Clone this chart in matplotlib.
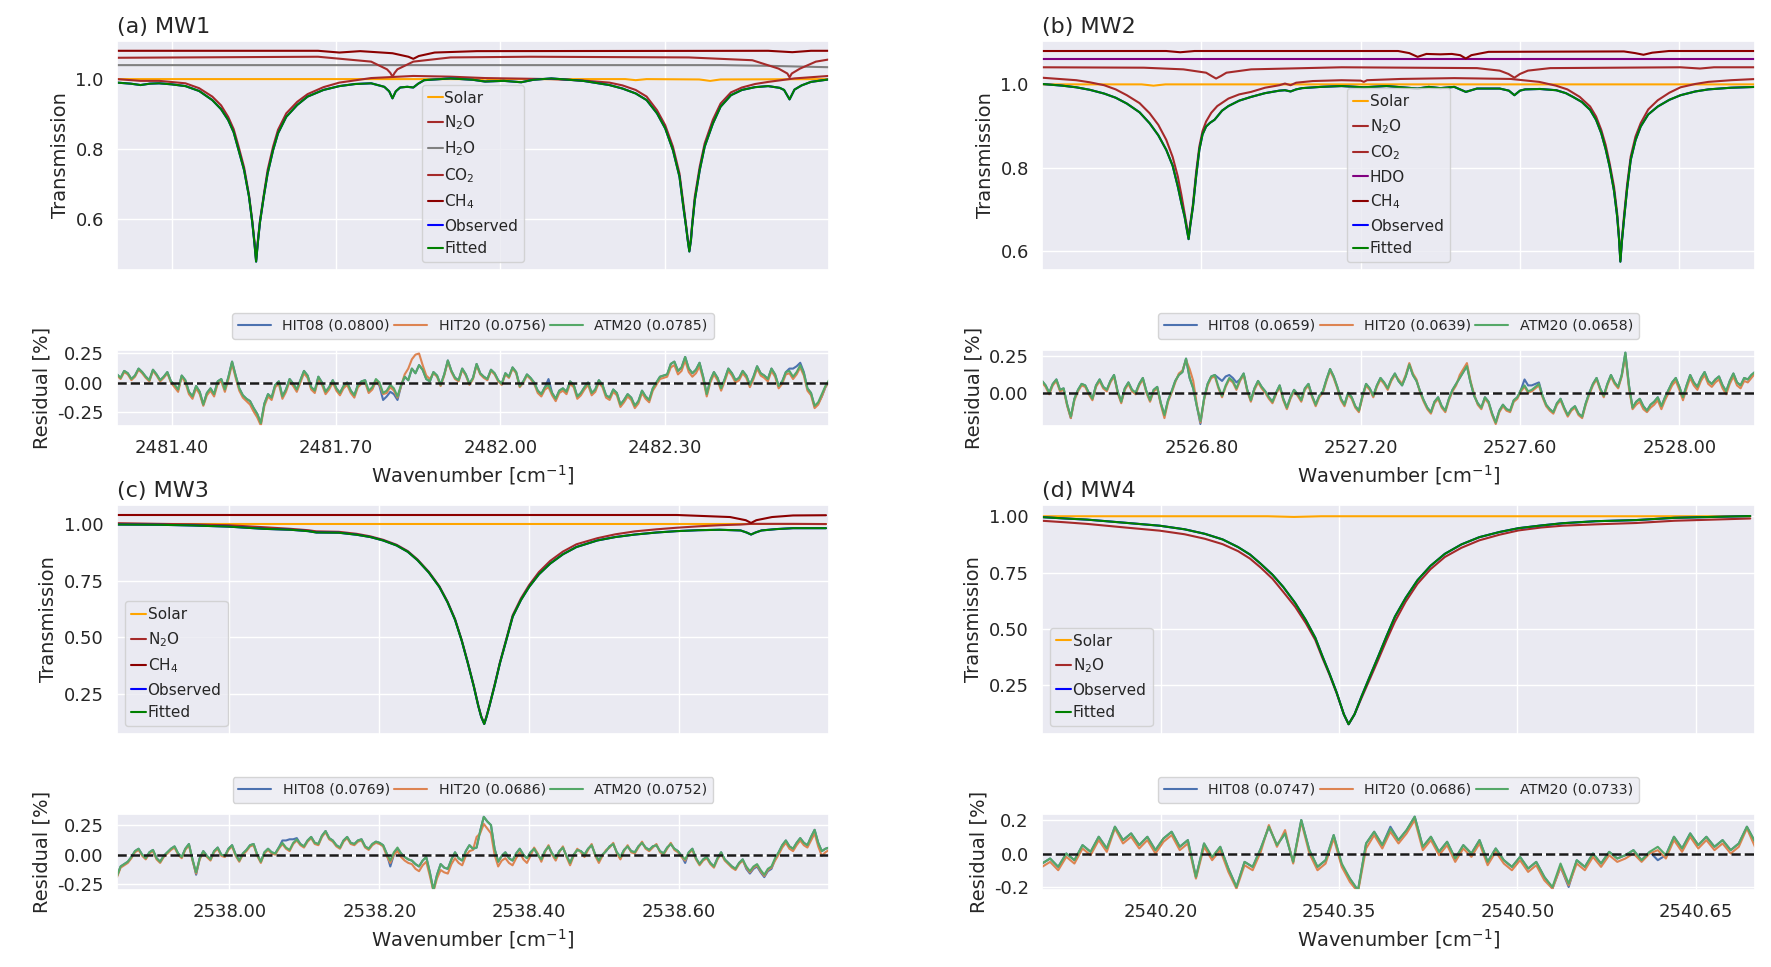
import numpy as np
import matplotlib
matplotlib.use("Agg")
import matplotlib.pyplot as plt
import seaborn as sns

sns.set_theme(style="darkgrid")
plt.rcParams["font.family"] = ["DejaVu Sans"]

# ---------------- MW1 ----------------
mw1_wn = [2481.300, 2481.325, 2481.343, 2481.360, 2481.377, 2481.400, 2481.425, 2481.450,
          2481.474, 2481.490, 2481.503, 2481.513, 2481.522, 2481.532, 2481.541, 2481.547,
          2481.551, 2481.554, 2481.557, 2481.561, 2481.568, 2481.575, 2481.585, 2481.594,
          2481.609, 2481.629, 2481.648, 2481.677, 2481.706, 2481.735, 2481.764, 2481.788,
          2481.797, 2481.803, 2481.809, 2481.817, 2481.830, 2481.841, 2481.850, 2481.861,
          2481.909, 2481.950, 2481.972, 2482.006, 2482.038, 2482.060, 2482.093, 2482.151,
          2482.199, 2482.223, 2482.247, 2482.267, 2482.286, 2482.301, 2482.315, 2482.327,
          2482.334, 2482.339, 2482.342, 2482.345, 2482.348, 2482.350, 2482.355, 2482.364,
          2482.373, 2482.388, 2482.402, 2482.421, 2482.441, 2482.465, 2482.489, 2482.510,
          2482.518, 2482.528, 2482.537, 2482.550, 2482.567, 2482.599]
mw1_fit = [0.990, 0.987, 0.983, 0.987, 0.988, 0.985, 0.980, 0.966,
           0.940, 0.914, 0.883, 0.848, 0.797, 0.740, 0.664, 0.590,
           0.530, 0.478, 0.530, 0.590, 0.664, 0.730, 0.797, 0.845,
           0.892, 0.926, 0.950, 0.969, 0.980, 0.986, 0.988, 0.978,
           0.965, 0.945, 0.965, 0.976, 0.978, 0.976, 0.987, 0.997,
           1.002, 0.998, 0.993, 0.995, 0.991, 0.998, 1.002, 0.995,
           0.983, 0.973, 0.959, 0.940, 0.902, 0.859, 0.797, 0.721,
           0.635, 0.578, 0.540, 0.507, 0.540, 0.578, 0.654, 0.740,
           0.807, 0.873, 0.921, 0.954, 0.969, 0.977, 0.980, 0.975,
           0.969, 0.942, 0.970, 0.982, 0.992, 0.999]
mw1_n2o_wn = [2481.300, 2481.343, 2481.377, 2481.425, 2481.450, 2481.474, 2481.490, 2481.503,
              2481.513, 2481.522, 2481.532, 2481.541, 2481.547, 2481.551, 2481.554, 2481.557,
              2481.561, 2481.568, 2481.575, 2481.585, 2481.594, 2481.609, 2481.629, 2481.648,
              2481.677, 2481.706, 2481.764, 2481.841, 2481.909, 2481.972, 2482.093, 2482.151,
              2482.199, 2482.223, 2482.247, 2482.267, 2482.286, 2482.301, 2482.315, 2482.327,
              2482.334, 2482.339, 2482.342, 2482.345, 2482.348, 2482.350, 2482.355, 2482.364,
              2482.373, 2482.388, 2482.402, 2482.421, 2482.441, 2482.465, 2482.489, 2482.537,
              2482.599]
mw1_n2o = [1.000, 0.995, 0.995, 0.988, 0.974, 0.950, 0.925, 0.892,
           0.857, 0.807, 0.748, 0.669, 0.595, 0.535, 0.483, 0.535,
           0.595, 0.669, 0.740, 0.807, 0.855, 0.902, 0.935, 0.957,
           0.977, 0.990, 1.003, 1.009, 1.007, 1.003, 1.000, 0.996,
           0.990, 0.982, 0.969, 0.950, 0.911, 0.868, 0.807, 0.730,
           0.645, 0.583, 0.545, 0.511, 0.545, 0.583, 0.664, 0.750,
           0.816, 0.884, 0.930, 0.962, 0.976, 0.986, 0.992, 1.002,
           1.009]
mw1_solar_wn = [2481.300, 2481.957, 2481.972, 2481.986, 2482.228, 2482.247, 2482.267,
                2482.363, 2482.383, 2482.402, 2482.599]
mw1_solar = [1.000, 1.000, 0.996, 1.000, 1.000, 0.997, 1.000, 0.999, 0.995, 0.999, 1.000]
mw1_h2o_wn = [2481.300, 2482.402, 2482.489, 2482.599]
mw1_h2o = [1.040, 1.040, 1.038, 1.034]
mw1_co2_wn = [2481.300, 2481.667, 2481.764, 2481.793, 2481.799, 2481.803, 2481.807, 2481.812,
              2481.841, 2481.909, 2482.054, 2482.344, 2482.460, 2482.508, 2482.524, 2482.528,
              2482.532, 2482.547, 2482.576, 2482.599]
mw1_co2 = [1.061, 1.064, 1.050, 1.028, 1.018, 1.007, 1.018, 1.028,
           1.050, 1.062, 1.064, 1.062, 1.054, 1.030, 1.016, 1.005,
           1.016, 1.030, 1.050, 1.056]
mw1_ch4_wn = [2481.300, 2481.667, 2481.706, 2481.744, 2481.803, 2481.832, 2481.841, 2481.851,
              2481.880, 2481.957, 2482.489, 2482.533, 2482.567, 2482.599]
mw1_ch4 = [1.081, 1.081, 1.076, 1.080, 1.074, 1.064, 1.058, 1.066,
           1.076, 1.080, 1.081, 1.077, 1.081, 1.081]

mw1_res_range = (2481.30, 2482.60)
mw1_atm20 = [0.07, 0.04, 0.10, 0.08, 0.03, 0.06, 0.12, 0.09, 0.05, 0.02, 0.11, 0.07, 0.02, 0.05, 0.09, 0.01,
             -0.02, -0.06, 0.06, 0.02, -0.08, -0.12, -0.03, -0.08, -0.19, -0.09, -0.05, -0.10, 0.01, 0.03, -0.06, 0.05,
             0.18, 0.06,
             -0.05, -0.11, -0.14, -0.16, -0.22, -0.27, -0.35, -0.18,
             -0.10, -0.13, -0.02, 0.01, -0.12, -0.06, 0.03, -0.01, -0.06, 0.02, 0.10, 0.06, -0.04, -0.07, 0.05, 0.00, -0.08, -0.04, 0.02, -0.05,
             -0.09, -0.03, 0.00, -0.07, -0.11, -0.02, 0.01, 0.02, -0.07, -0.04, 0.03, 0.00, -0.09, -0.07, -0.02, -0.05, -0.12, -0.02,
             0.05, 0.02, 0.12, 0.08, 0.15, 0.11, 0.03, 0.01,
             0.09, 0.06, -0.02, 0.07, 0.19, 0.10, 0.04, 0.02, 0.12, 0.07, -0.01, 0.04, 0.16, 0.08, 0.05, 0.03, 0.11, 0.08, 0.02, -0.01,
             0.08, 0.05, 0.13, 0.09, -0.03, 0.01, 0.07, 0.04, 0.00, -0.07,
             -0.10, -0.04, -0.02, -0.09, -0.14, -0.07, -0.05, -0.08, 0.01, -0.02, -0.12, -0.09, -0.04, 0.00, -0.09, -0.06, 0.02, -0.02, -0.11, -0.13, -0.06, -0.09,
             -0.19, -0.15, -0.10, -0.13, -0.20, -0.16, -0.07, -0.12, -0.15, -0.05,
             0.00, 0.05, 0.06, 0.07, 0.16, 0.18,
             0.10, 0.13, 0.22, 0.12, 0.08, 0.11, 0.17, 0.05, -0.10, 0.02,
             0.09, 0.04, -0.05, 0.03, 0.12, 0.08, 0.02, 0.04, 0.10, 0.06, -0.02, 0.05, 0.14, 0.08, 0.06, 0.03, 0.12, 0.07, -0.03, 0.01, 0.09, 0.10, 0.05, 0.09,
             0.15, 0.08, -0.05, -0.09, -0.20, -0.17, -0.10, -0.03, 0.02]
mw1_hit20 = [0.06, 0.03, 0.09, 0.07, 0.02, 0.05, 0.11, 0.08, 0.04, 0.01, 0.10, 0.06, 0.01, 0.04, 0.08, 0.00,
             -0.04, -0.08, 0.05, 0.00, -0.10, -0.14, -0.05, -0.10, -0.20, -0.11, -0.07, -0.12, -0.01, 0.01, -0.08, 0.03,
             0.16, 0.04,
             -0.07, -0.13, -0.16, -0.19, -0.25, -0.30, -0.37, -0.20,
             -0.12, -0.15, -0.04, -0.01, -0.14, -0.08, 0.01, -0.03, -0.08, 0.00, 0.08, 0.04, -0.06, -0.09, 0.03, -0.02, -0.10, -0.06, 0.00, -0.07,
             -0.11, -0.05, -0.02, -0.09, -0.13, -0.04, -0.01, 0.00, -0.09, -0.06, 0.01, -0.02, -0.10, -0.09, -0.04, -0.07, -0.13, -0.03,
             0.07, 0.12, 0.20, 0.24, 0.25, 0.15, 0.06, 0.03,
             0.08, 0.05, -0.03, 0.06, 0.18, 0.09, 0.03, 0.01, 0.11, 0.06, -0.02, 0.03, 0.15, 0.07, 0.04, 0.02, 0.10, 0.07, 0.01, -0.02,
             0.07, 0.04, 0.12, 0.08, -0.04, 0.00, 0.06, 0.03, -0.01, -0.09,
             -0.12, -0.06, -0.04, -0.11, -0.16, -0.09, -0.07, -0.10, -0.01, -0.04, -0.14, -0.11, -0.06, -0.02, -0.11, -0.08, 0.00, -0.04, -0.13, -0.15, -0.08, -0.11,
             -0.21, -0.17, -0.12, -0.15, -0.22, -0.18, -0.09, -0.14, -0.17, -0.07,
             -0.02, 0.03, 0.04, 0.05, 0.13, 0.15,
             0.07, 0.10, 0.19, 0.09, 0.05, 0.08, 0.14, 0.03, -0.12, 0.00,
             0.07, 0.02, -0.07, 0.01, 0.10, 0.06, 0.00, 0.02, 0.08, 0.04, -0.04, 0.03, 0.12, 0.06, 0.04, 0.01, 0.10, 0.05, -0.05, -0.01, 0.07, 0.08, 0.03, 0.07,
             0.13, 0.06, -0.07, -0.11, -0.22, -0.19, -0.12, -0.04, 0.01]
mw1_hit08 = [0.07, 0.04, 0.10, 0.08, 0.03, 0.06, 0.12, 0.09, 0.05, 0.02, 0.11, 0.07, 0.02, 0.05, 0.09, 0.01,
             -0.02, -0.06, 0.06, 0.02, -0.08, -0.12, -0.03, -0.08, -0.19, -0.09, -0.05, -0.10, 0.01, 0.03, -0.06, 0.05,
             0.18, 0.06,
             -0.05, -0.11, -0.14, -0.16, -0.22, -0.27, -0.35, -0.18,
             -0.10, -0.13, -0.02, 0.01, -0.12, -0.06, 0.03, -0.01, -0.06, 0.02, 0.10, 0.06, -0.04, -0.07, 0.05, 0.00, -0.08, -0.04, 0.02, -0.05,
             -0.09, -0.03, 0.00, -0.07, -0.11, -0.02, 0.01, 0.02, -0.08, -0.05, 0.02, -0.03, -0.15, -0.12, -0.08, -0.10, -0.15, -0.03,
             0.05, 0.02, 0.12, 0.08, 0.15, 0.11, 0.03, 0.01,
             0.09, 0.06, -0.02, 0.07, 0.19, 0.10, 0.04, 0.02, 0.12, 0.07, -0.01, 0.04, 0.16, 0.08, 0.05, 0.03, 0.11, 0.08, 0.02, -0.01,
             0.08, 0.05, 0.13, 0.09, -0.03, 0.01, 0.07, 0.04, 0.00, -0.07,
             -0.10, -0.04, 0.03, -0.09, -0.14, -0.07, -0.05, -0.08, 0.01, -0.02, -0.12, -0.09, -0.04, 0.00, -0.09, -0.06, 0.02, -0.02, -0.11, -0.13, -0.06, -0.09,
             -0.19, -0.15, -0.10, -0.13, -0.20, -0.16, -0.07, -0.12, -0.15, -0.05,
             0.00, 0.05, 0.06, 0.07, 0.16, 0.18,
             0.10, 0.13, 0.22, 0.12, 0.08, 0.11, 0.17, 0.05, -0.10, 0.02,
             0.09, 0.04, -0.05, 0.03, 0.12, 0.08, 0.02, 0.04, 0.10, 0.06, -0.02, 0.05, 0.14, 0.08, 0.06, 0.03, 0.12, 0.07, -0.03, 0.01, 0.09, 0.12, 0.12, 0.14,
             0.17, 0.09, -0.05, -0.09, -0.21, -0.18, -0.12, -0.04, 0.01]

# ---------------- MW2 ----------------
mw2_wn = [2526.400, 2526.450, 2526.486, 2526.520, 2526.556, 2526.585, 2526.613, 2526.645,
          2526.670, 2526.692, 2526.712, 2526.728, 2526.741, 2526.750, 2526.758, 2526.764,
          2526.768, 2526.772, 2526.779, 2526.787, 2526.795, 2526.803, 2526.812, 2526.822,
          2526.833, 2526.840, 2526.852, 2526.868, 2526.895, 2526.925, 2526.960, 2526.996,
          2527.010, 2527.024, 2527.038, 2527.053, 2527.100, 2527.152, 2527.208, 2527.265,
          2527.343, 2527.371, 2527.400, 2527.435, 2527.464, 2527.492, 2527.549, 2527.572,
          2527.586, 2527.600, 2527.613, 2527.650, 2527.691, 2527.715, 2527.733, 2527.755,
          2527.776, 2527.791, 2527.804, 2527.815, 2527.825, 2527.836, 2527.844, 2527.849,
          2527.852, 2527.856, 2527.861, 2527.869, 2527.878, 2527.890, 2527.903, 2527.922,
          2527.946, 2527.975, 2528.003, 2528.040, 2528.073, 2528.130, 2528.194]
mw2_fit = [1.001, 0.997, 0.993, 0.987, 0.978, 0.968, 0.954, 0.933,
           0.907, 0.878, 0.843, 0.805, 0.755, 0.715, 0.683, 0.650,
           0.629, 0.660, 0.707, 0.780, 0.843, 0.880, 0.899, 0.908,
           0.915, 0.923, 0.937, 0.948, 0.961, 0.970, 0.979, 0.985,
           0.986, 0.983, 0.988, 0.991, 0.994, 0.996, 0.993, 0.996,
           0.990, 0.994, 0.991, 0.994, 0.982, 0.990, 0.990, 0.985,
           0.974, 0.985, 0.988, 0.989, 0.986, 0.979, 0.970, 0.958,
           0.939, 0.915, 0.883, 0.845, 0.803, 0.745, 0.683, 0.625,
           0.575, 0.625, 0.675, 0.750, 0.819, 0.866, 0.899, 0.928,
           0.947, 0.963, 0.974, 0.983, 0.988, 0.992, 0.994]
mw2_n2o_wn = [2526.400, 2526.486, 2526.520, 2526.556, 2526.585, 2526.613, 2526.645, 2526.670,
              2526.692, 2526.712, 2526.728, 2526.741, 2526.750, 2526.758, 2526.764, 2526.768,
              2526.772, 2526.779, 2526.787, 2526.795, 2526.803, 2526.812, 2526.825, 2526.840,
              2526.868, 2526.895, 2526.925, 2526.960, 2526.996, 2527.010, 2527.024, 2527.038,
              2527.080, 2527.152, 2527.200, 2527.208, 2527.216, 2527.300, 2527.435, 2527.577,
              2527.648, 2527.690, 2527.719, 2527.750, 2527.776, 2527.791, 2527.804, 2527.815,
              2527.825, 2527.836, 2527.844, 2527.849, 2527.852, 2527.856, 2527.861, 2527.869,
              2527.878, 2527.890, 2527.903, 2527.922, 2527.946, 2527.975, 2528.003, 2528.040,
              2528.073, 2528.130, 2528.194]
mw2_n2o = [1.016, 1.010, 1.005, 0.998, 0.988, 0.974, 0.955, 0.931,
           0.903, 0.867, 0.826, 0.779, 0.735, 0.691, 0.658, 0.634,
           0.665, 0.713, 0.790, 0.851, 0.888, 0.911, 0.932, 0.948,
           0.966, 0.976, 0.982, 0.992, 0.998, 1.002, 0.998, 1.004,
           1.008, 1.010, 1.009, 1.006, 1.010, 1.013, 1.015, 1.013,
           1.006, 0.997, 0.988, 0.970, 0.947, 0.923, 0.891, 0.855,
           0.811, 0.755, 0.691, 0.630, 0.579, 0.630, 0.683, 0.760,
           0.827, 0.875, 0.907, 0.940, 0.962, 0.980, 0.993, 1.001,
           1.006, 1.010, 1.013]
mw2_solar_wn = [2526.400, 2526.650, 2526.680, 2526.710, 2528.194]
mw2_solar = [1.000, 1.000, 0.997, 1.000, 1.000]
mw2_co2_wn = [2526.400, 2526.656, 2526.755, 2526.812, 2526.826, 2526.837, 2526.849, 2526.863,
              2526.925, 2527.152, 2527.492, 2527.549, 2527.571, 2527.586, 2527.600, 2527.620,
              2527.676, 2528.003, 2528.052, 2528.087, 2528.194]
mw2_co2 = [1.041, 1.040, 1.036, 1.028, 1.020, 1.014, 1.020, 1.028,
           1.036, 1.041, 1.039, 1.033, 1.025, 1.016, 1.025, 1.033,
           1.039, 1.041, 1.038, 1.041, 1.041]
mw2_hdo_wn = [2526.400, 2528.194]
mw2_hdo = [1.061, 1.061]
mw2_ch4_wn = [2526.400, 2526.712, 2526.747, 2526.783, 2527.294, 2527.322, 2527.343, 2527.365,
              2527.400, 2527.429, 2527.450, 2527.464, 2527.478, 2527.521, 2527.861, 2527.889,
              2527.910, 2527.932, 2527.974, 2528.194]
mw2_ch4 = [1.080, 1.080, 1.077, 1.080, 1.080, 1.075, 1.066, 1.073,
           1.072, 1.073, 1.070, 1.062, 1.070, 1.078, 1.079, 1.075,
           1.071, 1.076, 1.080, 1.080]

mw2_res_range = (2526.40, 2528.19)
mw2_atm20 = [0.08, 0.05, 0.00, 0.06, 0.09, 0.02, 0.03, -0.08, -0.16, -0.04, 0.02, 0.06, 0.05, 0.00, -0.04, 0.05,
             0.09, 0.04, 0.02, 0.08, 0.12, 0.01, -0.06, 0.03, 0.07, 0.02, 0.00, 0.06, 0.10, 0.01, -0.05, 0.02,
             0.04, -0.07, -0.15, -0.05, 0.01, 0.08, 0.12, 0.14, 0.23, 0.10, 0.03, -0.09, -0.19, -0.04,
             0.06, 0.11, 0.12, 0.04, -0.02, 0.05, 0.10, 0.08, 0.03, 0.09, 0.13, 0.02, -0.05, 0.03, 0.08, 0.04, 0.01, -0.03,
             -0.06, 0.00, 0.05, -0.04, -0.10, -0.03, 0.02, -0.01, -0.05, 0.03, 0.06, -0.02, -0.08, -0.02, 0.01, 0.09,
             0.16, 0.11, 0.04, -0.04, -0.08, 0.00, -0.03, -0.09, -0.12, -0.02,
             0.06, 0.03, -0.02, 0.05, 0.10, 0.07, 0.03, 0.09, 0.13, 0.08, 0.05, 0.11, 0.19, 0.12, 0.08, 0.01,
             -0.05, -0.10, -0.13, -0.06, -0.03, -0.09, -0.12, -0.04, 0.02, 0.06,
             0.10, 0.14, 0.18, 0.07,
             -0.02, -0.07, -0.10, -0.03, -0.06, -0.14, -0.20, -0.12, -0.08, -0.11, -0.12, -0.05, -0.03, 0.02,
             0.05, 0.01, 0.02, 0.04, 0.06, -0.02,
             -0.08, -0.11, -0.13, -0.07, -0.04, -0.10, -0.15, -0.11, -0.09, -0.14, -0.16, -0.07,
             0.00, 0.06, 0.10, 0.03, -0.02, 0.06, 0.12, 0.07, 0.04, 0.12,
             0.27, 0.05,
             -0.10, -0.06, -0.04, -0.09, -0.12, -0.08, -0.06, -0.03, -0.09, -0.03,
             0.02, 0.07, 0.10, 0.04, -0.03, 0.05, 0.12, 0.07, 0.04, 0.10, 0.14, 0.08, 0.06, 0.09, 0.11, 0.05,
             0.01, 0.08, 0.13, 0.07, 0.05, 0.10, 0.09, 0.12, 0.14]
mw2_hit20 = [0.07, 0.04, -0.01, 0.05, 0.08, 0.01, 0.02, -0.09, -0.17, -0.05, 0.01, 0.05, 0.04, -0.01, -0.05, 0.04,
             0.08, 0.03, 0.01, 0.07, 0.11, 0.00, -0.07, 0.02, 0.06, 0.01, -0.01, 0.05, 0.09, 0.00, -0.06, 0.01,
             0.03, -0.08, -0.17, -0.06, 0.00, 0.07, 0.13, 0.15, 0.22, 0.16, 0.08, -0.08, -0.20, -0.05,
             0.05, 0.10, 0.11, 0.03, -0.03, 0.04, 0.09, 0.07, 0.02, 0.08, 0.12, 0.01, -0.06, 0.02, 0.07, 0.03, 0.00, -0.04,
             -0.07, -0.01, 0.04, -0.05, -0.11, -0.04, 0.01, -0.02, -0.06, 0.02, 0.05, -0.03, -0.09, -0.03, 0.00, 0.08,
             0.15, 0.10, 0.03, -0.05, -0.09, -0.01, -0.04, -0.10, -0.13, -0.03,
             0.05, 0.02, -0.03, 0.04, 0.09, 0.06, 0.02, 0.08, 0.12, 0.09, 0.06, 0.12, 0.20, 0.13, 0.09, 0.00,
             -0.06, -0.11, -0.14, -0.07, -0.04, -0.10, -0.13, -0.05, 0.01, 0.05,
             0.12, 0.16, 0.20, 0.08,
             -0.01, -0.08, -0.11, -0.04, -0.07, -0.15, -0.21, -0.13, -0.09, -0.12, -0.13, -0.06, -0.04, 0.01,
             0.04, 0.00, 0.01, 0.03, 0.05, -0.03,
             -0.09, -0.12, -0.14, -0.08, -0.05, -0.11, -0.16, -0.12, -0.10, -0.15, -0.17, -0.08,
             -0.01, 0.05, 0.09, 0.02, -0.03, 0.05, 0.11, 0.06, 0.03, 0.11,
             0.25, 0.03,
             -0.11, -0.08, -0.06, -0.11, -0.13, -0.10, -0.08, -0.05, -0.11, -0.05,
             0.00, 0.05, 0.08, 0.02, -0.05, 0.03, 0.10, 0.05, 0.02, 0.08, 0.12, 0.06, 0.04, 0.07, 0.09, 0.03,
             -0.01, 0.06, 0.11, 0.05, 0.03, 0.08, 0.07, 0.10, 0.13]
mw2_hit08 = [0.08, 0.05, 0.00, 0.06, 0.09, 0.02, 0.03, -0.08, -0.17, -0.04, 0.02, 0.06, 0.05, 0.00, -0.04, 0.05,
             0.09, 0.04, 0.02, 0.08, 0.12, 0.01, -0.06, 0.03, 0.07, 0.02, 0.00, 0.06, 0.10, 0.01, -0.05, 0.02,
             0.04, -0.07, -0.15, -0.05, 0.01, 0.08, 0.12, 0.14, 0.23, 0.10, 0.03, -0.09, -0.21, -0.04,
             0.06, 0.11, 0.12, 0.10, 0.08, 0.11, 0.12, 0.10, 0.07, 0.09, 0.13, 0.02, -0.05, 0.03, 0.08, 0.04, 0.01, -0.03,
             -0.06, 0.00, 0.05, -0.04, -0.10, -0.03, 0.02, -0.01, -0.05, 0.03, 0.06, -0.02, -0.08, -0.02, 0.01, 0.09,
             0.16, 0.11, 0.04, -0.04, -0.08, 0.00, -0.03, -0.09, -0.12, -0.02,
             0.06, 0.03, -0.02, 0.05, 0.10, 0.07, 0.03, 0.09, 0.13, 0.08, 0.05, 0.11, 0.19, 0.12, 0.08, 0.01,
             -0.05, -0.10, -0.13, -0.06, -0.03, -0.09, -0.12, -0.04, 0.02, 0.06,
             0.10, 0.14, 0.18, 0.07,
             -0.02, -0.07, -0.10, -0.03, -0.06, -0.14, -0.20, -0.12, -0.08, -0.11, -0.12, -0.05, -0.03, 0.02,
             0.09, 0.05, 0.05, 0.06, 0.07, -0.02,
             -0.08, -0.11, -0.13, -0.07, -0.04, -0.10, -0.15, -0.11, -0.09, -0.14, -0.16, -0.07,
             0.00, 0.06, 0.10, 0.03, -0.02, 0.06, 0.12, 0.07, 0.04, 0.12,
             0.27, 0.05,
             -0.10, -0.06, -0.04, -0.09, -0.12, -0.08, -0.06, -0.03, -0.09, -0.03,
             0.02, 0.07, 0.10, 0.04, -0.03, 0.05, 0.12, 0.07, 0.04, 0.10, 0.14, 0.08, 0.06, 0.09, 0.11, 0.05,
             0.01, 0.08, 0.13, 0.07, 0.05, 0.10, 0.09, 0.12, 0.14]

# ---------------- MW3 ----------------
mw3_wn = [2537.850, 2537.906, 2537.950, 2537.998, 2538.047, 2538.082, 2538.105, 2538.116,
          2538.146, 2538.170, 2538.188, 2538.205, 2538.223, 2538.238, 2538.251, 2538.266,
          2538.280, 2538.291, 2538.301, 2538.310, 2538.318, 2538.326, 2538.332, 2538.336,
          2538.340, 2538.343, 2538.347, 2538.354, 2538.361, 2538.370, 2538.378, 2538.389,
          2538.400, 2538.413, 2538.428, 2538.445, 2538.463, 2538.491, 2538.515, 2538.541,
          2538.570, 2538.597, 2538.625, 2538.654, 2538.682, 2538.690, 2538.696, 2538.702,
          2538.710, 2538.730, 2538.752, 2538.796]
mw3_fit = [0.997, 0.996, 0.993, 0.988, 0.978, 0.974, 0.968, 0.962,
           0.961, 0.952, 0.942, 0.927, 0.905, 0.877, 0.840, 0.786,
           0.723, 0.655, 0.578, 0.485, 0.388, 0.285, 0.199, 0.150,
           0.119, 0.150, 0.199, 0.290, 0.388, 0.495, 0.592, 0.665,
           0.723, 0.778, 0.825, 0.866, 0.898, 0.927, 0.942, 0.953,
           0.962, 0.968, 0.972, 0.974, 0.971, 0.962, 0.953, 0.962,
           0.971, 0.977, 0.981, 0.981]
mw3_n2o_wn = [2537.850, 2537.906, 2537.950, 2537.998, 2538.047, 2538.082, 2538.105, 2538.116,
              2538.146, 2538.170, 2538.188, 2538.205, 2538.223, 2538.238, 2538.251, 2538.266,
              2538.280, 2538.291, 2538.301, 2538.310, 2538.318, 2538.326, 2538.332, 2538.336,
              2538.340, 2538.343, 2538.347, 2538.354, 2538.361, 2538.370, 2538.378, 2538.389,
              2538.400, 2538.413, 2538.428, 2538.445, 2538.463, 2538.491, 2538.515, 2538.541,
              2538.570, 2538.597, 2538.625, 2538.654, 2538.682, 2538.696, 2538.752, 2538.796]
mw3_n2o = [1.003, 1.000, 0.998, 0.994, 0.985, 0.978, 0.972, 0.967,
           0.965, 0.956, 0.945, 0.930, 0.908, 0.880, 0.843, 0.789,
           0.726, 0.658, 0.581, 0.488, 0.391, 0.288, 0.202, 0.153,
           0.122, 0.153, 0.202, 0.294, 0.391, 0.500, 0.598, 0.672,
           0.731, 0.788, 0.837, 0.878, 0.910, 0.937, 0.954, 0.967,
           0.976, 0.983, 0.989, 0.994, 0.997, 1.000, 1.000, 0.999]
mw3_solar_wn = [2537.850, 2538.796]
mw3_solar = [1.000, 1.000]
mw3_ch4_wn = [2537.850, 2538.597, 2538.668, 2538.689, 2538.696, 2538.703, 2538.724, 2538.752,
              2538.796]
mw3_ch4 = [1.039, 1.039, 1.030, 1.016, 1.004, 1.016, 1.030, 1.037, 1.038]

mw3_res_range = (2537.85, 2538.80)
mw3_atm20 = [-0.18, -0.10, -0.08, -0.06, -0.02, 0.03, 0.05, 0.00, -0.03, 0.02, 0.04, -0.03, -0.06, -0.01, 0.02, 0.05,
             0.07, 0.01, -0.02, 0.05, 0.09, -0.04, -0.15, -0.03, 0.03, -0.01, -0.04, 0.03, 0.06, 0.00, -0.01, 0.05,
             0.08, 0.00, -0.05, 0.01, 0.04, 0.08, 0.09, 0.00, -0.06, 0.02, 0.05, 0.02, 0.01, 0.06,
             0.10, 0.06, 0.04, 0.10, 0.13, 0.09, 0.07, 0.12, 0.15, 0.10, 0.09, 0.16, 0.20, 0.14, 0.12, 0.08,
             0.06, 0.12, 0.15, 0.10, 0.09, 0.12, 0.13, 0.07, 0.05, 0.09, 0.11, 0.10, 0.08, 0.01,
             -0.05, 0.02, 0.06, 0.01, -0.02, -0.04,
             -0.05, -0.08, -0.10, -0.05, -0.02, -0.15, -0.30, -0.17, -0.08, -0.11, -0.12, -0.04,
             0.02, -0.03, -0.05, 0.03, 0.08, 0.05, 0.06, 0.20,
             0.32, 0.28, 0.25, 0.05,
             -0.06, -0.01, 0.02, -0.03, -0.05, 0.01, 0.05, 0.00, -0.03, 0.02,
             0.05, 0.00, -0.04, 0.03, 0.07, 0.01, -0.03, 0.03, 0.06, -0.01, -0.07, 0.00, 0.04, 0.03, 0.00, 0.05,
             0.08, 0.00, -0.05, 0.00, 0.03, 0.07, 0.09, 0.02, -0.02, 0.04, 0.07, 0.03, 0.02, 0.07, 0.10, 0.06,
             0.04, 0.07, 0.08, 0.03, 0.01, 0.06, 0.09, 0.05, 0.03, -0.01,
             -0.04, 0.02, 0.05, -0.03, -0.08, -0.04, -0.02, -0.07, -0.10, -0.03, 0.02, -0.04, -0.07, -0.10,
             -0.12, -0.07, -0.04, -0.10, -0.14, -0.10, -0.08, -0.13, -0.17, -0.12, -0.10, -0.03,
             0.02, 0.08, 0.12, 0.07, 0.05, 0.10, 0.14, 0.10, 0.08, 0.15, 0.21, 0.10, 0.03, 0.05, 0.06]
mw3_hit20 = [-0.19, -0.11, -0.09, -0.07, -0.03, 0.02, 0.04, -0.01, -0.04, 0.01, 0.03, -0.04, -0.07, -0.02, 0.01, 0.04,
             0.06, 0.00, -0.03, 0.04, 0.08, -0.05, -0.16, -0.04, 0.02, -0.02, -0.05, 0.02, 0.05, -0.01, -0.02, 0.04,
             0.07, -0.01, -0.06, 0.00, 0.03, 0.07, 0.08, -0.01, -0.07, 0.01, 0.04, 0.01, 0.00, 0.05,
             0.09, 0.05, 0.03, 0.09, 0.12, 0.08, 0.06, 0.11, 0.14, 0.09, 0.08, 0.15, 0.19, 0.13, 0.11, 0.07,
             0.05, 0.11, 0.14, 0.09, 0.08, 0.11, 0.12, 0.06, 0.04, 0.08, 0.10, 0.09, 0.07, -0.01,
             -0.07, 0.00, 0.03, -0.02, -0.05, -0.07,
             -0.08, -0.12, -0.14, -0.09, -0.06, -0.18, -0.31, -0.20, -0.13, -0.15, -0.16, -0.08,
             -0.03, -0.07, -0.09, -0.01, 0.03, 0.04, 0.15, 0.18,
             0.26, 0.22, 0.18, 0.00,
             -0.10, -0.05, -0.03, -0.07, -0.09, -0.03, 0.02, -0.04, -0.07, -0.01,
             0.06, 0.01, -0.06, 0.02, 0.08, 0.00, -0.05, 0.02, 0.07, -0.02, -0.09, -0.01, 0.05, 0.02, -0.02, 0.04,
             0.09, -0.01, -0.07, -0.01, 0.04, 0.06, 0.10, 0.01, -0.04, 0.03, 0.08, 0.02, 0.01, 0.06, 0.11, 0.05,
             0.03, 0.06, 0.09, 0.02, 0.00, 0.05, 0.10, 0.04, 0.02, -0.02,
             -0.05, 0.01, 0.04, -0.04, -0.09, -0.05, -0.03, -0.08, -0.11, -0.04, 0.01, -0.05, -0.08, -0.11,
             -0.13, -0.08, -0.05, -0.11, -0.15, -0.11, -0.09, -0.14, -0.18, -0.13, -0.11, -0.05,
             0.00, 0.06, 0.10, 0.05, 0.03, 0.08, 0.12, 0.08, 0.06, 0.12, 0.18, 0.07, -0.01, 0.02, 0.04]
mw3_hit08 = [-0.18, -0.10, -0.08, -0.06, -0.02, 0.03, 0.05, 0.00, -0.03, 0.02, 0.04, -0.03, -0.06, -0.01, 0.02, 0.05,
             0.07, 0.01, -0.02, 0.05, 0.09, -0.04, -0.17, -0.03, 0.03, -0.01, -0.04, 0.03, 0.06, 0.00, -0.01, 0.05,
             0.08, 0.00, -0.05, 0.01, 0.04, 0.08, 0.09, 0.00, -0.06, 0.02, 0.05, 0.02, 0.01, 0.06,
             0.12, 0.12, 0.13, 0.13, 0.14, 0.09, 0.07, 0.12, 0.15, 0.10, 0.09, 0.16, 0.20, 0.14, 0.12, 0.08,
             0.06, 0.12, 0.15, 0.10, 0.09, 0.12, 0.13, 0.07, 0.05, 0.09, 0.11, 0.10, 0.08, 0.01,
             -0.10, 0.00, 0.05, 0.01, -0.02, -0.04,
             -0.05, -0.08, -0.10, -0.05, -0.02, -0.15, -0.30, -0.17, -0.08, -0.11, -0.12, -0.04,
             0.02, -0.03, -0.05, 0.03, 0.08, 0.05, 0.06, 0.20,
             0.32, 0.28, 0.25, 0.05,
             -0.06, -0.01, 0.02, -0.03, -0.05, 0.01, 0.05, 0.00, -0.03, 0.02,
             0.05, 0.00, -0.04, 0.03, 0.07, 0.01, -0.03, 0.03, 0.06, -0.01, -0.07, 0.00, 0.04, 0.03, 0.00, 0.05,
             0.08, 0.00, -0.05, 0.00, 0.03, 0.07, 0.09, 0.02, -0.02, 0.04, 0.07, 0.03, 0.02, 0.07, 0.10, 0.06,
             0.04, 0.07, 0.08, 0.03, 0.01, 0.06, 0.09, 0.05, 0.03, -0.01,
             -0.07, 0.02, 0.05, -0.03, -0.08, -0.04, -0.02, -0.07, -0.10, -0.03, 0.02, -0.04, -0.07, -0.10,
             -0.12, -0.07, -0.04, -0.12, -0.16, -0.12, -0.10, -0.15, -0.19, -0.14, -0.12, -0.04,
             0.02, 0.08, 0.12, 0.07, 0.05, 0.10, 0.14, 0.10, 0.08, 0.15, 0.21, 0.10, 0.03, 0.05, 0.06]

# ---------------- MW4 ----------------
mw4_wn = [2540.100, 2540.120, 2540.138, 2540.170, 2540.199, 2540.220, 2540.237, 2540.252,
          2540.265, 2540.275, 2540.284, 2540.294, 2540.303, 2540.313, 2540.322, 2540.330,
          2540.336, 2540.342, 2540.348, 2540.354, 2540.358, 2540.363, 2540.369, 2540.376,
          2540.383, 2540.390, 2540.397, 2540.406, 2540.416, 2540.427, 2540.439, 2540.453,
          2540.468, 2540.485, 2540.501, 2540.520, 2540.538, 2540.566, 2540.600, 2540.632,
          2540.696]
mw4_fit = [0.996, 0.990, 0.985, 0.971, 0.958, 0.942, 0.922, 0.897,
           0.863, 0.830, 0.789, 0.740, 0.686, 0.615, 0.539, 0.460,
           0.378, 0.300, 0.216, 0.120, 0.076, 0.120, 0.201, 0.290,
           0.378, 0.468, 0.554, 0.637, 0.716, 0.780, 0.833, 0.875,
           0.907, 0.930, 0.947, 0.959, 0.969, 0.978, 0.983, 0.993,
           1.001]
mw4_n2o = [0.980, 0.973, 0.966, 0.950, 0.936, 0.920, 0.900, 0.876,
           0.845, 0.812, 0.772, 0.722, 0.664, 0.598, 0.525, 0.450,
           0.370, 0.295, 0.213, 0.120, 0.076, 0.120, 0.194, 0.278,
           0.363, 0.450, 0.532, 0.620, 0.700, 0.765, 0.819, 0.860,
           0.893, 0.918, 0.937, 0.950, 0.958, 0.964, 0.970, 0.980,
           0.990]
mw4_solar_wn = [2540.100, 2540.290, 2540.312, 2540.335, 2540.696]
mw4_solar = [1.000, 1.000, 0.997, 1.000, 1.000]

mw4_res_range = (2540.10, 2540.70)
mw4_atm20 = [-0.06, -0.03, -0.08, 0.00, -0.04,
             0.05, 0.01, 0.10, 0.03, 0.16, 0.08,
             0.12, 0.05, 0.10, 0.02, 0.09, 0.13, 0.04, 0.08,
             -0.14, 0.06, -0.02, 0.04,
             -0.09, -0.20, -0.05, -0.08, 0.03,
             0.16, 0.05, 0.12, -0.05, 0.20,
             0.02, -0.08, -0.04, 0.11,
             -0.06, -0.15, -0.22,
             0.06, 0.13, 0.05, 0.15, 0.08, 0.14, 0.22, 0.04,
             0.10, 0.01, 0.07, -0.03, 0.05, 0.00, 0.08, -0.05, 0.03,
             -0.04, -0.08, -0.02, -0.09, -0.05, -0.14,
             -0.20, -0.06, -0.18, -0.04,
             -0.08, 0.00, -0.06, 0.01, -0.03, -0.01, 0.02, -0.04, 0.01,
             0.04, -0.01, 0.10, 0.03, 0.12, 0.05, 0.10, 0.04, 0.08, 0.02, 0.06, 0.16, 0.07]
mw4_hit20 = [-0.08, -0.05, -0.10, -0.02, -0.06,
             0.03, -0.01, 0.08, 0.01, 0.15, 0.06,
             0.10, 0.03, 0.08, 0.00, 0.07, 0.11, 0.02, 0.06,
             -0.15, 0.04, -0.04, 0.02,
             -0.11, -0.21, -0.07, -0.10, 0.01,
             0.17, 0.04, 0.14, -0.06, 0.19,
             0.00, -0.10, -0.06, 0.09,
             -0.08, -0.17, -0.23,
             0.03, 0.11, 0.03, 0.13, 0.06, 0.12, 0.20, 0.02,
             0.08, -0.01, 0.05, -0.05, 0.03, -0.02, 0.06, -0.07, 0.01,
             -0.06, -0.10, -0.04, -0.11, -0.07, -0.16,
             -0.21, -0.08, -0.19, -0.06,
             -0.10, -0.02, -0.08, -0.01, -0.05, -0.03, 0.00, -0.05, 0.00,
             0.02, -0.03, 0.08, 0.01, 0.10, 0.03, 0.08, 0.02, 0.06, 0.00, 0.04, 0.15, 0.04]
mw4_hit08 = [-0.06, -0.03, -0.08, 0.00, -0.04,
             0.05, 0.01, 0.10, 0.03, 0.16, 0.08,
             0.12, 0.05, 0.10, 0.02, 0.09, 0.13, 0.04, 0.08,
             -0.14, 0.06, -0.03, 0.04,
             -0.09, -0.20, -0.05, -0.08, 0.03,
             0.16, 0.05, 0.12, -0.05, 0.20,
             0.02, -0.08, -0.04, 0.11,
             -0.07, -0.15, -0.22,
             0.06, 0.13, 0.05, 0.16, 0.08, 0.14, 0.22, 0.04,
             0.10, 0.01, 0.07, -0.03, 0.05, 0.00, 0.08, -0.05, 0.03,
             -0.04, -0.08, -0.02, -0.09, -0.05, -0.14,
             -0.21, -0.08, -0.20, -0.04,
             -0.08, 0.00, -0.06, 0.01, -0.03, -0.01, 0.02, -0.04, 0.01,
             -0.04, -0.01, 0.10, 0.03, 0.12, 0.05, 0.10, 0.04, 0.08, 0.02, 0.06, 0.16, 0.07]

# RMS values shown in legends
rms = {
    "MW1": (0.0800, 0.0756, 0.0785),
    "MW2": (0.0659, 0.0639, 0.0658),
    "MW3": (0.0769, 0.0686, 0.0752),
    "MW4": (0.0747, 0.0686, 0.0733),
}

xticks = {
    "MW1": [2481.40, 2481.70, 2482.00, 2482.30],
    "MW2": [2526.80, 2527.20, 2527.60, 2528.00],
    "MW3": [2538.00, 2538.20, 2538.40, 2538.60],
    "MW4": [2540.20, 2540.35, 2540.50, 2540.65],
}

colors = {"Solar": "orange", "N$_2$O": "brown", "H$_2$O": "gray", "CO$_2$": "brown",
          "HDO": "purple", "CH$_4$": "darkred", "Observed": "blue", "Fitted": "green"}
res_colors = ["#4C72B0", "#DD8452", "#55A868"]

W, H = 1771, 967


def rect(left, top, width, bottom):
    return [left / W, 1 - bottom / H, width / W, (bottom - top) / H]


fig = plt.figure(figsize=(W / 100, H / 100), dpi=100)


def draw_panel(col, row, title, name, curves, fit_wn, fit, res, res_range,
               xlim, ylim_t, yticks_t, ylim_r, yticks_r, yfmt_t, yfmt_r, leg_loc):
    left = [117, 1042][col]
    width = [712, 713][col]
    off = 464 * row
    ax = fig.add_axes(rect(left, 41 + off, width, 270 + off))
    axr = fig.add_axes(rect(left, 350 + off, width, 426 + off), sharex=ax)

    for label, wn, vals in curves:
        ax.plot(wn, vals, color=colors[label], lw=1.5, label=label)
    ax.plot(fit_wn, fit, color=colors["Observed"], lw=1.5, label="Observed")
    ax.plot(fit_wn, fit, color=colors["Fitted"], lw=1.5, label="Fitted")
    ax.set_xlim(*xlim)
    ax.set_ylim(*ylim_t)
    ax.set_yticks(yticks_t)
    ax.yaxis.set_major_formatter(plt.FormatStrFormatter(yfmt_t))
    ax.tick_params(labelbottom=False, labelsize=13)
    ax.set_ylabel("Transmission", fontsize=14)
    ax.set_title(title, loc="left", fontsize=16)
    ax.legend(loc=leg_loc, fontsize=11, handlelength=1.0, handletextpad=0.1)

    labels = ["HIT08", "HIT20", "ATM20"]
    for i, vals in enumerate(res):
        xs = np.linspace(res_range[0], res_range[1], len(vals))
        axr.plot(xs, vals, color=res_colors[i], lw=1.5,
                 label=f"{labels[i]} ({rms[name][i]:.4f})")
    axr.axhline(0, color="k", ls="--", lw=1.8)
    axr.set_ylim(*ylim_r)
    axr.set_yticks(yticks_r)
    axr.yaxis.set_major_formatter(plt.FormatStrFormatter(yfmt_r))
    axr.set_xticks(xticks[name])
    axr.xaxis.set_major_formatter(plt.FormatStrFormatter("%.2f"))
    axr.tick_params(labelsize=13)
    axr.set_ylabel("Residual [%]", fontsize=14)
    axr.set_xlabel("Wavenumber [cm$^{-1}$]", fontsize=14)
    axr.legend(loc="lower center", bbox_to_anchor=(0.5, 1.0), ncol=3, fontsize=10.3,
               handlelength=2.3, columnspacing=0.3, borderaxespad=0.8)


draw_panel(0, 0, "(a) MW1", "MW1",
           [("Solar", mw1_solar_wn, mw1_solar), ("N$_2$O", mw1_n2o_wn, mw1_n2o),
            ("H$_2$O", mw1_h2o_wn, mw1_h2o), ("CO$_2$", mw1_co2_wn, mw1_co2),
            ("CH$_4$", mw1_ch4_wn, mw1_ch4)],
           mw1_wn, mw1_fit, [mw1_hit08, mw1_hit20, mw1_atm20], mw1_res_range,
           (2481.30, 2482.60), (0.454, 1.109), [0.6, 0.8, 1.0], (-0.374, 0.28),
           [-0.25, 0.0, 0.25], "%.1f", "%.2f", "lower center")

draw_panel(1, 0, "(b) MW2", "MW2",
           [("Solar", mw2_solar_wn, mw2_solar), ("N$_2$O", mw2_n2o_wn, mw2_n2o),
            ("CO$_2$", mw2_co2_wn, mw2_co2), ("HDO", mw2_hdo_wn, mw2_hdo),
            ("CH$_4$", mw2_ch4_wn, mw2_ch4)],
           mw2_wn, mw2_fit, [mw2_hit08, mw2_hit20, mw2_atm20], mw2_res_range,
           (2526.40, 2528.19), (0.555, 1.104), [0.6, 0.8, 1.0], (-0.223, 0.288),
           [0.0, 0.25], "%.1f", "%.2f", "lower center")

draw_panel(0, 1, "(c) MW3", "MW3",
           [("Solar", mw3_solar_wn, mw3_solar), ("N$_2$O", mw3_n2o_wn, mw3_n2o),
            ("CH$_4$", mw3_ch4_wn, mw3_ch4)],
           mw3_wn, mw3_fit, [mw3_hit08, mw3_hit20, mw3_atm20], mw3_res_range,
           (2537.85, 2538.80), (0.075, 1.083), [0.25, 0.5, 0.75, 1.0], (-0.299, 0.344),
           [-0.25, 0.0, 0.25], "%.2f", "%.2f", "lower left")

draw_panel(1, 1, "(d) MW4", "MW4",
           [("Solar", mw4_solar_wn, mw4_solar), ("N$_2$O", mw4_wn, mw4_n2o)],
           mw4_wn, mw4_fit, [mw4_hit08, mw4_hit20, mw4_atm20], mw4_res_range,
           (2540.10, 2540.70), (0.0325, 1.050), [0.25, 0.5, 0.75, 1.0], (-0.218, 0.236),
           [-0.2, 0.0, 0.2], "%.2f", "%.1f", "lower left")

fig.savefig("out.png", dpi=100)
